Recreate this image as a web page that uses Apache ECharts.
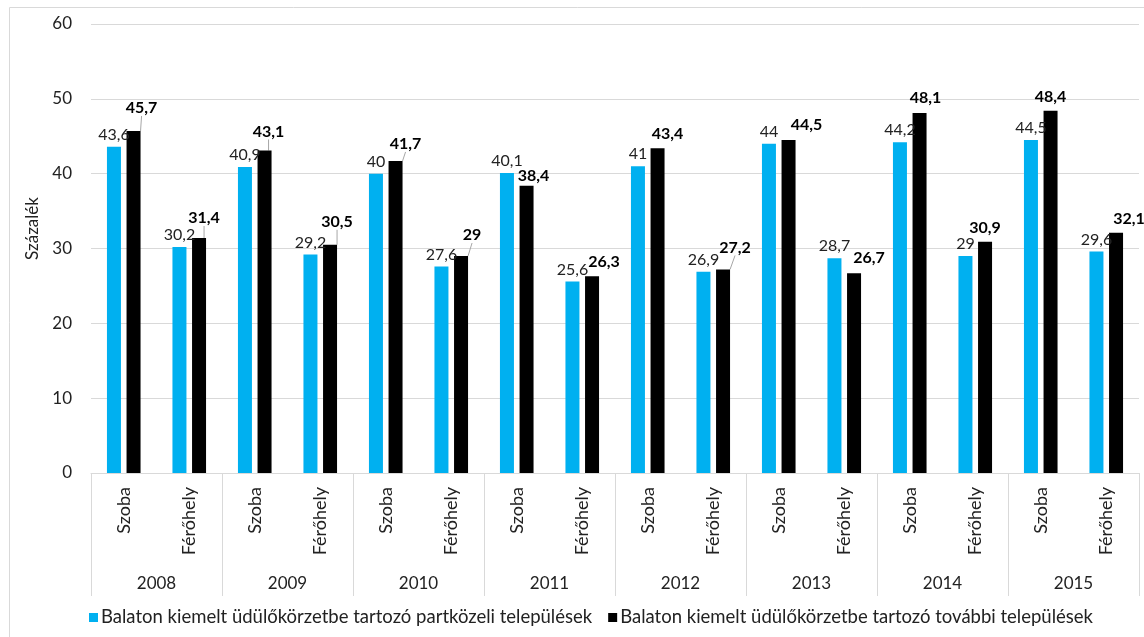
<!DOCTYPE html>
<html>
<head>
<meta charset="utf-8">
<script src="https://cdn.jsdelivr.net/npm/echarts@6/dist/echarts.min.js"></script>
<style>
html,body{margin:0;padding:0;background:#fff;}
#c{width:1144px;height:637px;}
</style>
</head>
<body>
<div id="c"></div>
<script>
const categories = ['Szoba','Férőhely','Szoba','Férőhely','Szoba','Férőhely','Szoba','Férőhely','Szoba','Férőhely','Szoba','Férőhely','Szoba','Férőhely','Szoba','Férőhely'];
const years = ['2008','2009','2010','2011','2012','2013','2014','2015'];
const seriesNames = ['Balaton kiemelt üdülőkörzetbe tartozó partközeli települések','Balaton kiemelt üdülőkörzetbe tartozó további települések'];
const partkozeli = [43.6,30.2,40.9,29.2,40,27.6,40.1,25.6,41,26.9,44,28.7,44.2,29,44.5,29.6];
const tovabbi = [45.7,31.4,43.1,30.5,41.7,29,38.4,26.3,43.4,27.2,44.5,26.7,48.1,30.9,48.4,32.1];
const yTicks = {min:0,max:60,interval:10};
const axisTitle = 'Százalék';

// label shifts for the bold labels (layout only)
const boldLabelShift = [[8,-11],[5,-8],[4,-7],[7,-11],[10,-5],[11,-9],[7,2],[12,-2],[10,-2],[12,-10],[18,-3],[15,-3],[6,-3],[0,-2],[0,-2],[13,-2]];
const leaderIdx = [0,1,2,3,4,5,9];

const FONT = 'Lato';
const chart = echarts.init(document.getElementById('c'), null, {renderer:'canvas'});

const fmt = v => String(v).replace('.', ',');

chart.setOption({
  animation:false,
  textStyle:{fontFamily:FONT},
  grid:{left:91,right:5,top:24,bottom:164,containLabel:false},
  legend:{
    left:84, top:603, itemWidth:9, itemHeight:9, itemGap:16,
    icon:'rect',
    textStyle:{fontFamily:FONT,fontSize:18.5,color:'#222',padding:[0,0,0,-2]},
    data:seriesNames
  },
  xAxis:[
    {type:'category',data:categories,position:'bottom',
     axisLine:{lineStyle:{color:'#d9d9d9'}},
     axisTick:{show:false},
     axisLabel:{rotate:90,interval:0,margin:14,fontSize:18,color:'#222',fontFamily:FONT}
    },
    {type:'category',data:years,position:'bottom',
     axisLine:{show:false},
     axisTick:{show:true,length:123,lineStyle:{color:'#d9d9d9'}},
     axisLabel:{interval:0,margin:102,fontSize:17,color:'#222',fontFamily:FONT}
    }
  ],
  yAxis:{type:'value',min:yTicks.min,max:yTicks.max,interval:yTicks.interval,
    name:axisTitle,nameLocation:'middle',nameGap:46,
    nameTextStyle:{fontSize:17,color:'#222',fontFamily:FONT,padding:[0,0,0,40]},
    axisLine:{show:false},axisTick:{show:false},
    axisLabel:{margin:19,fontSize:17,color:'#222',fontFamily:FONT},
    splitLine:{lineStyle:{color:'#d9d9d9',width:1}}
  },
  series:[
    {name:seriesNames[0],type:'bar',xAxisIndex:0,data:partkozeli,barWidth:14,barGap:'40%',
     itemStyle:{color:'#00b0f0'},
     label:{show:true,position:'top',distance:4,fontSize:16,color:'#222',fontFamily:FONT,formatter:p=>fmt(p.value)}
    },
    {name:seriesNames[1],type:'bar',xAxisIndex:0,barWidth:14,barGap:'40%',
     data:tovabbi.map((v,i)=>({value:v,labelLine:{show:leaderIdx.indexOf(i)>=0}})),
     itemStyle:{color:'#000'},
     label:{show:true,position:'top',distance:4,fontSize:16,fontWeight:'bold',color:'#000',fontFamily:FONT,formatter:p=>fmt(p.value)},
     labelLine:{show:false,lineStyle:{color:'#a6a6a6',width:1}},
     labelLayout:function(p){const s=boldLabelShift[p.dataIndex];return {dx:s[0],dy:s[1]};}
    }
  ],
  graphic:[
    {type:'rect',left:7,top:5,shape:{width:1136,height:631},style:{fill:'none',stroke:'#d9d9d9',lineWidth:1},silent:true,z:-1}
  ]
});
</script>
</body>
</html>
